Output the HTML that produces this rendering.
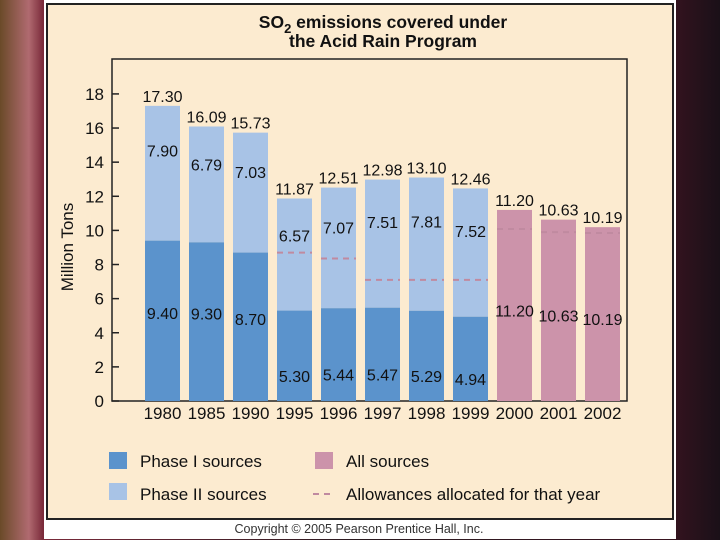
<!DOCTYPE html>
<html><head><meta charset="utf-8"><style>
body{margin:0;width:720px;height:540px;overflow:hidden;font-family:"Liberation Sans",sans-serif;}
#bg{position:absolute;left:0;top:0;width:720px;height:540px;background:linear-gradient(90deg,#6a4a28 0%,#b06a70 4%,#7a2a3a 6%,#2a1a20 50%,#3a1420 92%,#1a1018 100%);}
</style></head><body>
<div id="bg"></div>
<svg width="720" height="540" style="position:absolute;left:0;top:0" font-family="Liberation Sans, sans-serif">
<rect x="44" y="0" width="632" height="539" fill="#ffffff"/>
<rect x="47" y="4" width="626" height="515" fill="#fcebd0" stroke="#222" stroke-width="2"/>
<text x="383" y="28" text-anchor="middle" font-size="17.5" font-weight="bold" fill="#111">SO<tspan font-size="13" dy="5">2</tspan><tspan dy="-5"> emissions covered under</tspan></text>
<text x="383" y="47" text-anchor="middle" font-size="17.5" font-weight="bold" fill="#111">the Acid Rain Program</text>
<rect x="112" y="59" width="515" height="342" fill="none" stroke="#222" stroke-width="1.5"/>
<text transform="translate(73,247) rotate(-90)" text-anchor="middle" font-size="17" fill="#111">Million Tons</text>
<g id="ticks"></g><g id="bars"></g><g id="labels"></g>
<g>
<rect x="109" y="452" width="18" height="17" fill="#5b93cc"/>
<text x="140" y="467" font-size="17" fill="#111">Phase I sources</text>
<rect x="109" y="483" width="18" height="17" fill="#a8c3e6"/>
<text x="140" y="500" font-size="17" fill="#111">Phase II sources</text>
<rect x="315" y="452" width="18" height="17" fill="#cc93aa"/>
<text x="346" y="467" font-size="17" fill="#111">All sources</text>
<line x1="313" y1="494" x2="334" y2="494" stroke="#c08aa0" stroke-width="2" stroke-dasharray="6,5"/>
<text x="346" y="500" font-size="17" fill="#111">Allowances allocated for that year</text>
</g>
<text x="359" y="533" text-anchor="middle" font-size="12.5" fill="#333">Copyright © 2005 Pearson Prentice Hall, Inc.</text>
</svg>
<script>
const years=["1980","1985","1990","1995","1996","1997","1998","1999","2000","2001","2002"];
const phase1=[9.40,9.30,8.70,5.30,5.44,5.47,5.29,4.94,null,null,null];
const phase2=[7.90,6.79,7.03,6.57,7.07,7.51,7.81,7.52,null,null,null];
const totals=[17.30,16.09,15.73,11.87,12.51,12.98,13.10,12.46,11.20,10.63,10.19];
const allSources=[null,null,null,null,null,null,null,null,11.20,10.63,10.19];
const allowances=[null,null,null,8.7,8.35,7.1,7.1,7.1,10.08,9.9,9.85];
const yTicks=[0,2,4,6,8,10,12,14,16,18];
const NS="http://www.w3.org/2000/svg";
const y=v=>401-v*17.06;
const xc=i=>162.5+i*44;
const BW=35;
function mk(tag,attrs,parent,txt){const e=document.createElementNS(NS,tag);for(const k in attrs)e.setAttribute(k,attrs[k]);if(txt!==undefined)e.textContent=txt;document.getElementById(parent).appendChild(e);return e;}
yTicks.forEach(t=>{
  let l=mk('line',{x1:112,x2:119,y1:y(t),y2:y(t),stroke:'#222','stroke-width':1.5},'ticks');
  
  
  let tx=mk('text',{x:104,y:y(t)+6,'text-anchor':'end','font-size':17,fill:'#111'},'ticks',String(t));
  
  
});
years.forEach((yr,i)=>{
  const x0=xc(i)-BW/2;
  let xl=mk('text',{x:xc(i),y:419,'text-anchor':'middle','font-size':17,fill:'#111'},'labels',yr);
  
  
  if(phase1[i]!==null){
    const top=phase1[i]+phase2[i];
    let b2=mk('rect',{x:x0,width:BW,y:y(top),height:y(phase1[i])-y(top),fill:'#a8c3e6'},'bars');
    
    
    let b1=mk('rect',{x:x0,width:BW,y:y(phase1[i]),height:401-y(phase1[i]),fill:'#5b93cc'},'bars');
    
    
    let l1=mk('text',{x:xc(i),y:y(phase1[i]/2)+8+(i>=3?18:-10),'text-anchor':'middle','font-size':16,fill:'#111'},'labels',phase1[i].toFixed(2));
    
    
    let l2=mk('text',{x:xc(i),y:y(phase1[i]+phase2[i]*0.67)+6,'text-anchor':'middle','font-size':16,fill:'#111'},'labels',phase2[i].toFixed(2));
    
    
  } else {
    let b=mk('rect',{x:x0,width:BW,y:y(allSources[i]),height:401-y(allSources[i]),fill:'#cc93aa'},'bars');
    
    
    let la=mk('text',{x:xc(i),y:y(allSources[i]/2)+11,'text-anchor':'middle','font-size':16,fill:'#111'},'labels',allSources[i].toFixed(2));
    
    
  }
  let lt=mk('text',{x:xc(i),y:y(totals[i])-4,'text-anchor':'middle','font-size':16,fill:'#111'},'labels',totals[i].toFixed(2));
  
  
  if(allowances[i]!==null){
    let al=mk('line',{x1:x0,x2:x0+BW,y1:y(allowances[i]),y2:y(allowances[i]),stroke:'#c08aa0','stroke-width':2,'stroke-dasharray':'6,5'},'bars');
    
    
  }
});
</script>
</body></html>
